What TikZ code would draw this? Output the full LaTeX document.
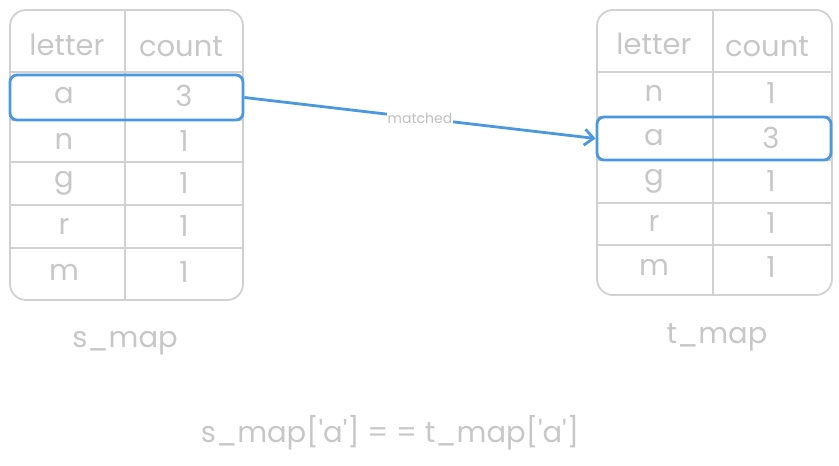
\documentclass[tikz,border=0pt]{standalone}
\usepackage{fontspec}
\usetikzlibrary{arrows.meta}
\setmainfont{Poppins}
\definecolor{hlblue}{RGB}{74,152,224}
\newcommand{\sq}{\textquotesingle}
\begin{document}
\begin{tikzpicture}[x=1pt,y=-1pt,
  grid/.style={draw=black!18,line width=1.8pt},
  txt/.style={text=black!22,font=\fontsize{29}{31}\selectfont,inner sep=0pt},
  hl/.style={draw=hlblue,line width=2.8pt,rounded corners=7pt}]
\useasboundingbox (0,0) rectangle (839,466);
% left table
\draw[grid,rounded corners=16pt] (10,10) rectangle (243,300);
\draw[grid] (125,10) -- (125,300);
\foreach \y in {72,120,162,205,248} \draw[grid] (10,\y) -- (243,\y);
\node[txt] (lh1) at (67,45) {letter};
\node[txt] (lh2) at (181,47) {count};
\foreach \l/\c/\y in {a/3/96,n/1/141,g/1/183,r/1/226,m/1/272}{
  \node[txt] at (64,\y) {\l}; \node[txt] at (184,\y) {\c};}
% right table
\draw[grid,rounded corners=16pt] (597,10) rectangle (832,295);
\draw[grid] (713,10) -- (713,295);
\foreach \y in {72,117,160,203,245} \draw[grid] (597,\y) -- (832,\y);
\node[txt] (rh1) at (654,44) {letter};
\node[txt] (rh2) at (767,47) {count};
\foreach \l/\c/\y in {n/1/93,a/3/138,g/1/181,r/1/223,m/1/267}{
  \node[txt] at (654,\y) {\l}; \node[txt] at (771,\y) {\c};}
% highlights
\node[hl,minimum width=233pt,minimum height=45pt,inner sep=0pt] (L) at (126.5,97.5) {};
\node[hl,minimum width=234pt,minimum height=43pt,inner sep=0pt] (R) at (714,138.5) {};
\draw[line width=2.8pt,draw=hlblue,-{Straight Barb[length=9pt,width=16pt]}]
  (L.east) -- node[fill=white,inner sep=1pt,text=black!25,font=\fontsize{14}{16}\selectfont] {matched} (R.west);
\node[txt] (s) at (125,343) {s\_map};
\node[txt] (t) at (717,337) {t\_map};
\node[txt] (eq) at (390,433) {s\_map[\sq a\sq] = = t\_map[\sq a\sq]};
\end{tikzpicture}
\end{document}
